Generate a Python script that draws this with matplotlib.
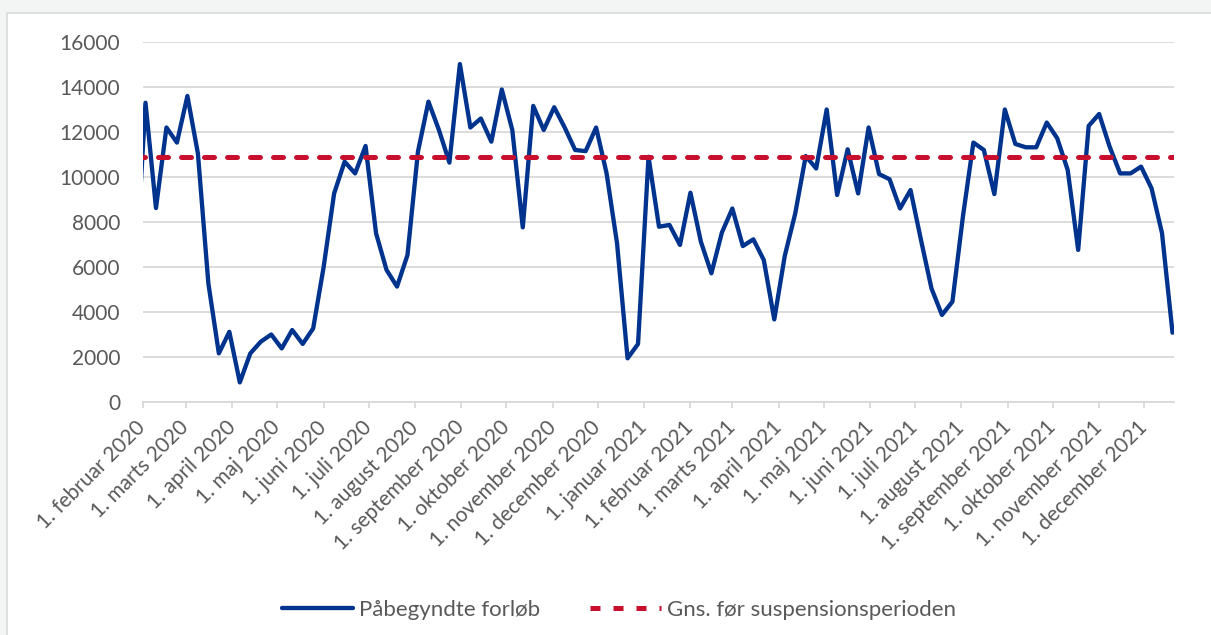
import matplotlib.pyplot as plt
import matplotlib.transforms as mtransforms
from matplotlib.patches import Rectangle
import numpy as np
import pandas as pd

# weekly values (Mondays), first point sits just before the axis start
uger = pd.date_range("2020-01-27", periods=100, freq="7D")
forloeb = [5250,
           13300, 8620, 12200, 11530, 13600, 11050, 5270, 2160, 3120, 870,
           2160, 2680, 3000, 2380, 3200, 2580, 3270, 6000, 9270, 10680,
           10160, 11380, 7500, 5870, 5130, 6530, 11130, 13350, 12090, 10640,
           15020, 12200, 12600, 11570, 13890, 12090, 7760, 13160, 12090, 13100,
           12200, 11200, 11150, 12200, 10160, 7040, 1940, 2580, 10900, 7790,
           7870, 6980, 9300, 7120, 5720, 7530, 8600, 6930, 7230, 6310,
           3670, 6490, 8380, 10930, 10380, 13000, 9200, 11230, 9270, 12200,
           10130, 9900, 8600, 9420, 7200, 5050, 3870, 4460, 8240, 11530,
           11200, 9240, 13000, 11470, 11320, 11320, 12420, 11720, 10310, 6760,
           12270, 12800, 11350, 10160, 10160, 10460, 9500, 7500, 3080]
gns_foer = 10900

maaned_datoer = pd.date_range("2020-02-01", "2021-12-01", freq="MS")
maaned_labels = ["1. februar 2020", "1. marts 2020", "1. april 2020", "1. maj 2020",
                 "1. juni 2020", "1. juli 2020", "1. august 2020", "1. september 2020",
                 "1. oktober 2020", "1. november 2020", "1. december 2020",
                 "1. januar 2021", "1. februar 2021", "1. marts 2021", "1. april 2021",
                 "1. maj 2021", "1. juni 2021", "1. juli 2021", "1. august 2021",
                 "1. september 2021", "1. oktober 2021", "1. november 2021",
                 "1. december 2021"]

blaa = "#00338D"
roed = "#C8102E"
graa_tekst = "#595959"
graa_linje = "#D9D9D9"

plt.rcParams['font.family'] = ['Lato', 'DejaVu Sans']

W, H = 1211, 635
fig = plt.figure(figsize=(W/100, H/100), dpi=100)
fig.patch.set_facecolor("#F3F5F5")
# white chart area with thin border (extends past right/bottom edge)
fig.patches.append(Rectangle((7/W, -0.05), 1.1, 1 - 12.5/H + 0.05, transform=fig.transFigure,
                             facecolor="white", edgecolor=graa_linje, lw=1.2, zorder=-5))

ax = fig.add_axes([142.5/W, 1 - 402/H, (1174 - 142.5)/W, 360/H])
ax.set_facecolor("none")
ax.set_zorder(2)

ax.plot(uger, forloeb, color=blaa, lw=3.1, solid_joinstyle="round",
        solid_capstyle="round", label="Påbegyndte forløb", zorder=3)
ax.hlines(gns_foer, uger[0], uger[-1], color=roed, lw=3.6, linestyles=(0, (2.0, 2.6)),
          capstyle="round", label="Gns. før suspensionsperioden", zorder=4)

ax.set_ylim(0, 16000)
ax.set_yticks(np.arange(0, 16001, 2000))
ax.set_xlim(pd.Timestamp("2020-02-01"), pd.Timestamp("2021-12-21"))
ax.set_xticks(maaned_datoer)
ax.set_xticklabels(maaned_labels, rotation=45, ha="right", va="center",
                   rotation_mode="anchor")
skub = mtransforms.ScaledTranslation(3/72, 0, fig.dpi_scale_trans)
for lab in ax.get_xticklabels():
    lab.set_transform(lab.get_transform() + skub)

ax.grid(axis="y", color=graa_linje, lw=1.3)
ax.set_axisbelow(True)
for s in ["top", "right", "left"]:
    ax.spines[s].set_visible(False)
ax.spines["bottom"].set_color(graa_linje)
ax.spines["bottom"].set_linewidth(1.3)

ax.tick_params(axis="y", length=0, pad=16, labelsize=15, labelcolor=graa_tekst)
ax.tick_params(axis="x", length=4, width=1.3, color=graa_linje, pad=12,
               labelsize=15, labelcolor=graa_tekst)

leg = fig.legend(loc="center", bbox_to_anchor=(619/W, 1 - 610/H), ncol=2,
                 frameon=False, fontsize=16, handlelength=3.2, handletextpad=0.3,
                 columnspacing=2.2)
for t in leg.get_texts():
    t.set_color(graa_tekst)

fig.savefig("out.png", dpi=100, facecolor=fig.get_facecolor())
